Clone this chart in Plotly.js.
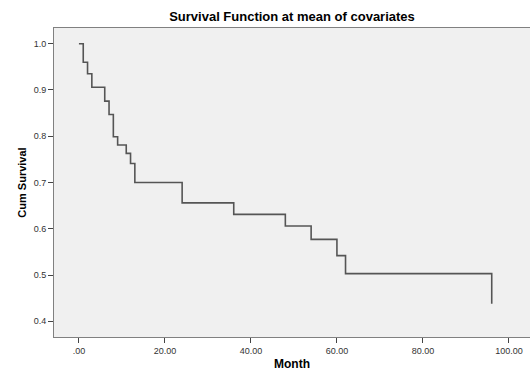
<!DOCTYPE html>
<html>
<head>
<meta charset="utf-8">
<script src="https://cdn.plot.ly/plotly-3.0.1.min.js"></script>
<style>html,body{margin:0;padding:0;background:#fff;}#chart{width:531px;height:369px;}</style>
</head>
<body>
<div id="chart"></div>
<script>
// Survival step data (months, cumulative survival)
var months = [0, 1, 2, 3, 6, 7, 8, 9, 11, 12, 13, 24, 36, 48, 54, 60, 62, 96];
var cumSurvival = [1.0, 0.960, 0.935, 0.906, 0.876, 0.847, 0.799, 0.781, 0.763, 0.741, 0.700, 0.656, 0.631, 0.606, 0.577, 0.542, 0.503, 0.438];
var xTickVals = [0, 20, 40, 60, 80, 100];
var xTickText = ['.00', '20.00', '40.00', '60.00', '80.00', '100.00'];
var yTickVals = [0.4, 0.5, 0.6, 0.7, 0.8, 0.9, 1.0];
var yTickText = ['0.4', '0.5', '0.6', '0.7', '0.8', '0.9', '1.0'];

var trace = {
  x: months,
  y: cumSurvival,
  type: 'scatter',
  mode: 'lines',
  line: {shape: 'hv', color: '#555555', width: 1.6},
  hoverinfo: 'skip'
};

var fontFam = '"Liberation Sans", Arial, sans-serif';
var layout = {
  width: 531,
  height: 369,
  margin: {l: 54, r: 1, t: 27.5, b: 31.7, pad: 0},
  paper_bgcolor: '#ffffff',
  plot_bgcolor: '#f0f0f0',
  showlegend: false,
  title: {
    text: '<b>Survival Function at mean of covariates</b>',
    font: {family: fontFam, size: 13, color: '#000'},
    x: 0.5, xanchor: 'center', xref: 'paper',
    y: 1, yref: 'container', yanchor: 'top', pad: {t: 12}
  },
  xaxis: {
    range: [-5.8, 104.9],
    tickvals: xTickVals,
    ticktext: xTickText,
    ticks: 'outside', ticklen: 5, tickwidth: 1, tickcolor: '#444',
    showline: true, linecolor: '#808080', linewidth: 1, mirror: true,
    showgrid: false, zeroline: false,
    tickfont: {family: fontFam, size: 9, color: '#333'}
  },
  yaxis: {
    range: [0.366, 1.034],
    tickvals: yTickVals,
    ticktext: yTickText,
    ticks: 'outside', ticklen: 5, tickwidth: 1, tickcolor: '#444',
    showline: true, linecolor: '#808080', linewidth: 1,
    showgrid: false, zeroline: false,
    tickfont: {family: fontFam, size: 9, color: '#333'},
    title: {text: '<b>Cum Survival</b>', font: {family: fontFam, size: 11, color: '#000'}, standoff: 4}
  },
  annotations: [{
    text: '<b>Month</b>',
    xref: 'paper', yref: 'paper',
    x: 0.5, y: -0.058, xanchor: 'center', yanchor: 'top',
    showarrow: false,
    font: {family: fontFam, size: 12, color: '#000'}
  }]
};

Plotly.newPlot('chart', [trace], layout, {staticPlot: true, displayModeBar: false});
</script>
</body>
</html>
